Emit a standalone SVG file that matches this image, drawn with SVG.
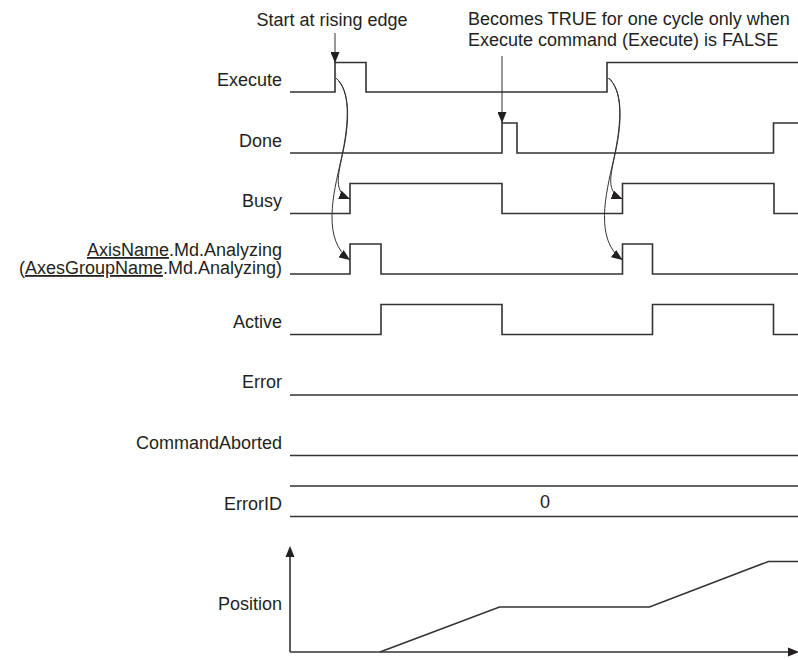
<svg xmlns="http://www.w3.org/2000/svg" width="798" height="660" viewBox="0 0 798 660">
<style>
text{font-family:"Liberation Sans",Arial,sans-serif;font-size:18px;fill:#231f20}
.lbl{text-anchor:end}
.sig{fill:none;stroke:#333;stroke-width:1.6;stroke-linejoin:miter}
.cur{fill:none;stroke:#333;stroke-width:1}
.ul{text-decoration:underline}
</style>
<defs>
<marker id="ah" markerUnits="userSpaceOnUse" markerWidth="11" markerHeight="9" refX="11" refY="4.5" orient="auto">
<path d="M0,0 L11,4.5 L0,9 z" fill="#231f20"/>
</marker>
<marker id="av" markerUnits="userSpaceOnUse" markerWidth="11" markerHeight="9" refX="11" refY="4.5" orient="auto">
<path d="M0,0 L11,4.5 L0,9 z" fill="#231f20"/>
</marker>
</defs>
<rect width="798" height="660" fill="#fff"/>

<g id="execute">
<text class="lbl" x="282" y="85.5">Execute</text>
<path class="sig" d="M290,92 H335 V62.5 H366 V92 H607 V62.5 H798"/>
</g>
<g id="done">
<text class="lbl" x="282" y="146.5">Done</text>
<path class="sig" d="M290,153 H502 V123 H517 V153 H773.5 V123 H798"/>
</g>
<g id="busy">
<text class="lbl" x="282" y="207">Busy</text>
<path class="sig" d="M290,213.5 H350 V183.5 H502 V213.5 H622.5 V183.5 H774 V213.5 H798"/>
</g>
<g id="analyzing">
<text class="lbl" x="282" y="256"><tspan class="ul">AxisName</tspan>.Md.Analyzing</text>
<text class="lbl" x="282" y="274">(<tspan class="ul">AxesGroupName</tspan>.Md.Analyzing)</text>
<path class="sig" d="M290,274 H350 V244 H381 V274 H622.5 V244 H652.5 V274 H798"/>
</g>
<g id="active">
<text class="lbl" x="282" y="327.5">Active</text>
<path class="sig" d="M290,334.5 H381 V304.5 H502 V334.5 H652.5 V304.5 H773.5 V334.5 H798"/>
</g>
<g id="error">
<text class="lbl" x="282" y="388">Error</text>
<path class="sig" d="M290,395 H798"/>
</g>
<g id="commandaborted">
<text class="lbl" x="282" y="448.5">CommandAborted</text>
<path class="sig" d="M290,455.5 H798"/>
</g>
<g id="errorid">
<text class="lbl" x="282" y="509.5">ErrorID</text>
<path class="sig" d="M290,486 H798 M290,516.5 H798"/>
<text x="545" y="507.5" text-anchor="middle">0</text>
</g>
<g id="position">
<text class="lbl" x="282" y="609.5">Position</text>
<path class="sig" d="M290,652 V557" stroke-width="1.3"/>
<polygon points="290,546 285.5,557 294.5,557" fill="#231f20"/>
<path class="sig" d="M290,652 H788" stroke-width="1.3"/>
<polygon points="799,652 788,647.5 788,656.5" fill="#231f20"/>
<path class="sig" d="M380,652 L499.5,607 H649.5 L768.5,561.5 H798"/>
</g>

<g id="annotations">
<text x="256.5" y="26">Start at rising edge</text>
<text x="468" y="25">Becomes TRUE for one cycle only when</text>
<text x="468" y="45.5">Execute command (Execute) is FALSE</text>
</g>

<g id="connectors">
<path class="cur" d="M335,33 V63" marker-end="url(#av)"/>
<path class="cur" d="M502,56 V123" marker-end="url(#av)"/>
<path class="cur" d="M336,78 C350,90 350,120 343,152 C338,176 333,192 350,199" marker-end="url(#ah)"/>
<path class="cur" d="M336,78 C350,90 350,120 341,160 C333,195 322,240 350,260" marker-end="url(#ah)"/>
<path class="cur" d="M608.5,78 C622.5,90 622.5,120 615.5,152 C610.5,176 605.5,192 622.5,199" marker-end="url(#ah)"/>
<path class="cur" d="M608.5,78 C622.5,90 622.5,120 613.5,160 C605.5,195 594.5,240 622.5,260" marker-end="url(#ah)"/>
</g>
</svg>
